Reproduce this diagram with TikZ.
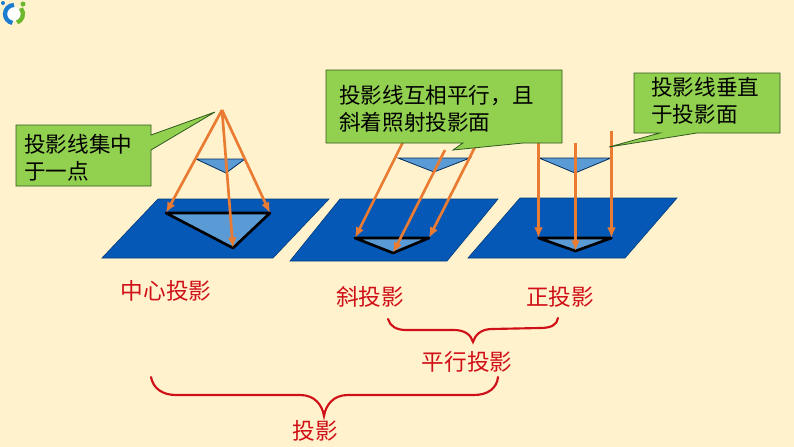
\documentclass[tikz,border=0pt]{standalone}
\usepackage{fontspec}
\setmainfont{Noto Sans CJK SC}
\usepackage{xcolor}
\usetikzlibrary{arrows.meta,positioning,calc}
\definecolor{paper}{HTML}{FFF2CC}
\definecolor{planeblue}{HTML}{0558B6}
\definecolor{shadeblue}{HTML}{5B9BD5}
\definecolor{rayorange}{HTML}{E97B33}
\definecolor{notegreen}{HTML}{92D050}
\definecolor{notedark}{HTML}{2F5A1E}
\definecolor{bracered}{HTML}{D01018}
\definecolor{logoblue}{HTML}{1C7CD0}
\definecolor{logogreen}{HTML}{6CB82C}
\tikzset{
  >={Latex[length=8pt,width=6.5pt]},
  plane/.style={fill=planeblue,draw=planeblue!70!black,line width=0.5pt},
  shadow/.style={fill=shadeblue,draw=black,line width=2pt,line join=round},
  object/.style={fill=shadeblue,draw=planeblue!50!black,line width=0.6pt},
  ray/.style={->,draw=rayorange,line width=2pt},
  note/.style={fill=notegreen,draw=notedark,line width=0.6pt},
  notetext/.style={anchor=west,align=left,inner sep=0pt,text=black,font=\fontsize{16.2}{20}\selectfont},
  kind/.style={inner sep=0pt,text=bracered,font=\fontsize{17}{20}\selectfont},
  bracket/.style={draw=bracered,line width=1.6pt,line cap=round}
}
\begin{document}
\begin{tikzpicture}[x=0.75pt,y=-0.75pt]
  \fill[paper] (0,0) rectangle (794,447);
  \useasboundingbox (0,0) rectangle (794,447);

  % logo
  \fill[white] (14,14) circle (7);
  \draw[logoblue,line width=3.2pt] (14,5) arc (-90:-260:9);
  \draw[logogreen,line width=3.2pt] (20.9,8.2) arc (-40:70:9);
  \fill[logoblue] (3,3) circle (2);
  \fill[logogreen] (23,4) circle (2.5);

  % central projection
  \draw[plane] (158,199)--(329,199)--(273,258)--(102,258)--cycle;
  \coordinate (apex) at (222,110);
  \coordinate (a1) at (196,159); \coordinate (a2) at (245,159); \coordinate (a3) at (226,173);
  \coordinate (A1) at (166,213); \coordinate (A2) at (270,213); \coordinate (A3) at (233,248);
  \draw[shadow] (A1)--(A2)--(A3)--cycle;
  \draw[object] (a1)--(a2)--(a3)--cycle;
  \draw[ray] (apex)--(A1); \draw[ray] (apex)--(A2); \draw[ray] (apex)--(A3);

  % oblique projection
  \draw[plane] (340,199)--(498,199)--(447,261)--(290,261)--cycle;
  \coordinate (b1) at (398,158); \coordinate (b2) at (470,158); \coordinate (b3) at (434,172);
  \coordinate (B1) at (355,238); \coordinate (B2) at (429,238); \coordinate (B3) at (393,253);
  \coordinate (s1) at (405,138); \coordinate (s2) at (445,150); \coordinate (s3) at (477,143);
  \draw[shadow] (B1)--(B2)--(B3)--cycle;
  \draw[object] (b1)--(b2)--(b3)--cycle;
  \draw[ray] (s1)--(B1); \draw[ray] (s2)--(B3); \draw[ray] (s3)--(B2);

  % orthogonal projection
  \draw[plane] (520,198)--(677,198)--(625,258)--(468,258)--cycle;
  \coordinate (c1) at (539,158); \coordinate (c2) at (611,158); \coordinate (c3) at (575,173);
  \coordinate (C1) at (538.5,238); \coordinate (C2) at (611.5,238); \coordinate (C3) at (575.5,251);
  \coordinate (t1) at (538.5,138); \coordinate (t2) at (575.5,143); \coordinate (t3) at (611.5,131);
  \draw[shadow] (C1)--(C2)--(C3)--cycle;
  \draw[object] (c1)--(c2)--(c3)--cycle;
  \draw[ray] (t1)--(C1); \draw[ray] (t2)--(C3); \draw[ray] (t3)--(C2);

  % callouts
  \draw[note] (16,125)--(151,125)--(151,135)--(215,112)--(151,150)--(151,186)--(16,186)--cycle;
  \node[notetext] (centernote) at (24,158) {投影线集中\\于一点};
  \draw[note] (326,70)--(562,70)--(562,143)--(523,143)--(453,150)--(463,143)--(326,143)--cycle;
  \node[notetext] (obliquenote) at (339,109) {投影线互相平行\char"FF0C 且\\斜着照射投影面};
  \draw[note] (634,73)--(780,73)--(780,133)--(697,133)--(609,147)--(660,133)--(634,133)--cycle;
  \node[notetext] (orthonote) at (651,101) {投影线垂直\\于投影面};

  % labels
  \node[kind] (central) at (166,291) {中心投影};
  \node[kind] (oblique) at (370,297) {斜投影};
  \node[kind] (ortho) at (560,297) {正投影};
  \node[kind] (parallel) at (467,362) {平行投影};
  \node[kind] (projection) at (315,431) {投影};

  % braces
  \draw[bracket] (388,319) .. controls (390,326) and (396,330) .. (406,330)
    -- (454,330) .. controls (465,330) and (471,335) .. (473,342)
    .. controls (475,335) and (481,329) .. (492,329)
    -- (540,328) .. controls (551,328) and (557,325) .. (558,318);
  \draw[bracket] (151,377) .. controls (153,388) and (162,395) .. (176,395)
    -- (300,395) .. controls (314,395) and (322,404) .. (324,416)
    .. controls (326,404) and (334,395) .. (348,395)
    -- (474,395) .. controls (488,395) and (497,388) .. (498,377);
\end{tikzpicture}
\end{document}
